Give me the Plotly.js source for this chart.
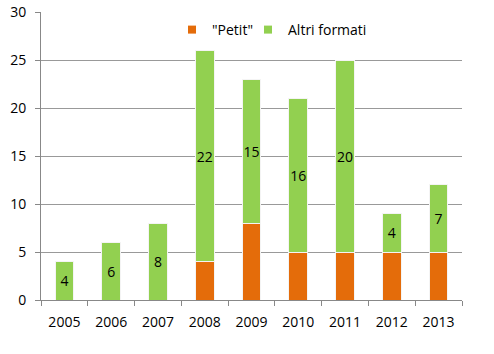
<!DOCTYPE html>
<html><head><meta charset="utf-8">
<script src="https://cdn.plot.ly/plotly-3.0.1.min.js"></script>
<style>html,body{margin:0;padding:0;background:#fff}#chart{width:494px;height:354px}</style>
</head><body><div id="chart"></div>
<script>
const years = ['2005','2006','2007','2008','2009','2010','2011','2012','2013'];
const petit = [0,0,0,4,8,5,5,5,5];
const altri = [4,6,8,22,15,16,20,4,7];
const seriesNames = ['"Petit"','Altri formati'];
const colors = ['#E46C0A','#92D050'];

const font = 'Open Sans, Liberation Sans, sans-serif';
const traces = [
  {type:'bar', name:seriesNames[0], x:years, y:petit, showlegend:false, legendgroup:'p',
   marker:{color:colors[0], line:{color:'#f4f4f4', width:1}}, hoverinfo:'skip'},
  {type:'bar', name:seriesNames[1], x:years, y:altri, showlegend:false, legendgroup:'a',
   text:altri.map(String), textposition:'inside', insidetextanchor:'middle',
   textfont:{color:'#000', size:14, family:font}, constraintext:'none',
   marker:{color:colors[1], line:{color:'#f4f4f4', width:1}}, hoverinfo:'skip'},
  // legend entries (no data)
  {type:'scatter', mode:'markers', name:seriesNames[0], x:[null], y:[null], legendgroup:'p',
   legend:'legend', marker:{symbol:'square', size:8, color:colors[0]}, hoverinfo:'skip'},
  {type:'scatter', mode:'markers', name:seriesNames[1], x:[null], y:[null], legendgroup:'a',
   legend:'legend2', marker:{symbol:'square', size:8, color:colors[1]}, hoverinfo:'skip'}
];
const legBase = {orientation:'h', yanchor:'middle', xanchor:'left', y:0.9375,
                 font:{size:14}, bgcolor:'rgba(0,0,0,0)', borderwidth:0};
const layout = {
  width:494, height:354, barmode:'stack', bargap:0.6,
  margin:{l:41, r:32, t:12, b:54},
  paper_bgcolor:'#fff', plot_bgcolor:'#fff',
  font:{family:font, size:14, color:'#000'},
  uniformtext:{mode:'show', minsize:14},
  xaxis:{type:'category', showline:true, linecolor:'#888', linewidth:1,
         ticks:'outside', tickson:'boundaries', ticklen:5, tickcolor:'#888',
         showgrid:false, tickfont:{size:14}, ticklabelstandoff:9},
  yaxis:{range:[0,30], dtick:5, showline:true, linecolor:'#888', linewidth:1,
         ticks:'outside', ticklen:5, tickcolor:'#888', gridcolor:'#999',
         gridwidth:1, zeroline:false, tickfont:{size:14}, ticklabelstandoff:6},
  legend:Object.assign({}, legBase, {x:(172-41)/421}),
  legend2:Object.assign({}, legBase, {x:(248-41)/421}),
  showlegend:true
};
Plotly.newPlot('chart', traces, layout, {staticPlot:true});
</script></body></html>
